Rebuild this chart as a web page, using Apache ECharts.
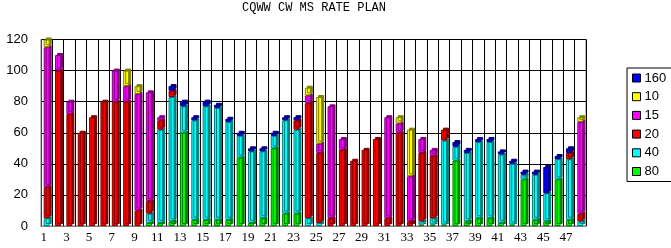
<!DOCTYPE html>
<html>
<head>
<meta charset="utf-8">
<script src="https://cdn.jsdelivr.net/npm/echarts@6/dist/echarts.min.js"></script>
<style>html,body{margin:0;padding:0;background:#fff;}#c{width:671px;height:248px;}</style>
</head>
<body>
<div id="c"></div>
<script>
var titleText = 'CQWW CW MS RATE PLAN';
var categories = ['1','2','3','4','5','6','7','8','9','10','11','12','13','14','15','16','17','18','19','20','21','22','23','24','25','26','27','28','29','30','31','32','33','34','35','36','37','38','39','40','41','42','43','44','45','46','47','48'];
var yTicks = [0, 20, 40, 60, 80, 100, 120];

var s80  = [0,0,0,0,0,0,0,0,0,2, 2,3,60,4,4,4,4,44,2,5, 50,8,8,0,0,0,0,0,0,0, 0,0,0,1,1,1,42,3,5,5, 2,1,30,4,3,30,4,0];
var s40  = [5,0,0,0,0,0,0,0,0,6, 60,80,17,64,73,72,63,14,46,43, 8,60,54,5,2,0,0,0,0,0, 0,0,0,2,4,54,9,44,49,49, 44,39,3,29,18,13,39,3];
var s20  = [20,100,72,60,70,80,80,80,10,8, 6,4,0,0,0,0,0,0,0,0, 0,0,6,74,45,5,49,42,49,56, 5,60,3,44,40,7,0,0,0,0, 0,0,0,0,0,0,4,5];
var s15  = [90,10,8,0,0,0,20,10,75,70, 2,0,0,0,0,0,0,0,0,0, 0,0,0,5,6,72,7,0,0,0, 65,6,29,9,4,0,0,0,0,0, 0,0,0,0,0,0,0,59];
var s10  = [5,0,0,0,0,0,0,10,5,0, 0,0,0,0,0,0,0,0,0,0, 0,0,0,5,30,0,0,0,0,0, 0,4,30,0,0,0,0,0,0,0, 0,0,0,0,0,0,0,3];
var s160 = [0,0,0,0,0,0,0,0,0,0, 0,3,3,2,3,2,2,2,2,2, 2,2,2,0,0,0,0,0,0,0, 0,0,0,0,0,0,3,2,2,2, 2,2,2,2,17,2,3,0];

var seriesDefs = [
  {name:'80',  data:s80,  color:'#00FF00', dark:'#008000'},
  {name:'40',  data:s40,  color:'#00FFFF', dark:'#008080'},
  {name:'20',  data:s20,  color:'#FF0000', dark:'#800000'},
  {name:'15',  data:s15,  color:'#FF00FF', dark:'#800080'},
  {name:'10',  data:s10,  color:'#FFFF00', dark:'#808000'},
  {name:'160', data:s160, color:'#0000FF', dark:'#000080'}
];
var legendOrder = ['160','10','15','20','40','80'];

var chart = echarts.init(document.getElementById('c'), null, {renderer:'canvas'});
var series = seriesDefs.map(function(d){
  return {
    name: d.name,
    type: 'bar',
    stack: 'total',
    barWidth: 6,
    data: d.data.map(function(v){ return v === 0 ? '-' : v; }),
    itemStyle: {
      color: d.color,
      borderColor: d.dark,
      borderWidth: 1,
      shadowColor: d.dark,
      shadowBlur: 0,
      shadowOffsetX: 2,
      shadowOffsetY: -2
    },
    emphasis: {disabled: true},
    animation: false
  };
});

chart.setOption({
  animation: false,
  backgroundColor: '#ffffff',
  title: {
    text: titleText,
    left: 242,
    top: 2,
    padding: 0,
    textStyle: {fontFamily: 'Liberation Mono', fontSize: 12, fontWeight: 'normal', color: '#000'}
  },
  legend: {
    data: legendOrder,
    orient: 'vertical',
    left: 627,
    top: 68,
    padding: [3, 6, 3, 5],
    itemWidth: 8,
    itemHeight: 8,
    itemGap: 4.7,
    borderColor: '#000',
    borderWidth: 1,
    icon: 'rect',
    selectedMode: false,
    itemStyle: {borderColor: '#000', borderWidth: 1, shadowColor: 'rgba(0,0,0,0)', shadowOffsetX: 0, shadowOffsetY: 0},
    textStyle: {fontFamily: 'Liberation Sans', fontSize: 13, lineHeight: 14, color: '#000', padding: [0,0,0,-1]}
  },
  grid: {
    left: 41, right: 85, top: 39.5, bottom: 22,
    show: true, borderColor: '#808080', borderWidth: 1, containLabel: false
  },
  xAxis: {
    type: 'category',
    data: categories,
    boundaryGap: true,
    axisLine: {show: true, lineStyle: {color: '#808080', width: 1}},
    axisTick: {show: false},
    axisLabel: {interval: 1, margin: 5, fontFamily: 'Liberation Serif', fontSize: 13, color: '#000', padding: [0, 6, 0, 0]},
    splitLine: {show: true, interval: 0, lineStyle: {color: '#000', width: 1}}
  },
  yAxis: {
    type: 'value',
    min: yTicks[0],
    max: yTicks[yTicks.length - 1],
    interval: yTicks[1] - yTicks[0],
    axisLine: {show: true, lineStyle: {color: '#404040', width: 1}},
    axisTick: {show: false},
    axisLabel: {margin: 13, fontFamily: 'Liberation Sans', fontSize: 13, color: '#000', padding: [6, 0, 0, 0]},
    splitLine: {show: true, lineStyle: {color: '#000', width: 1}}
  },
  series: series
});
</script>
</body>
</html>
